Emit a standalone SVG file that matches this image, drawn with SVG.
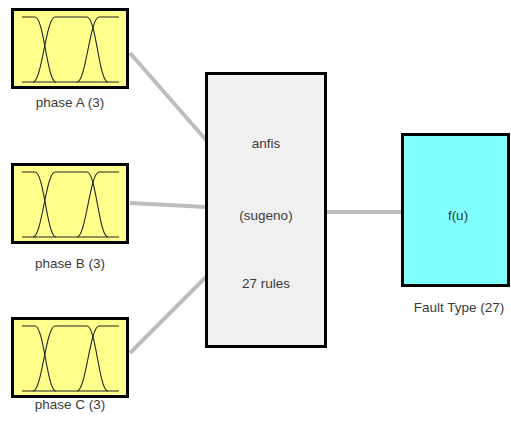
<svg xmlns="http://www.w3.org/2000/svg" xmlns:xlink="http://www.w3.org/1999/xlink" width="511" height="425" viewBox="0 0 511 425">
<style>
.box{stroke:#000;stroke-width:3}
.in{fill:#ffff8c}
.mf{fill:none;stroke:#222;stroke-width:1.1}
.lbl{font-family:"Liberation Sans",Arial,sans-serif;font-size:13.5px;fill:#3a3a3a;text-anchor:middle}
.conn{stroke:#bdbdbd;stroke-width:4;fill:none}
</style>
<defs>
<g id="mfs">
<path class="mf" d="M22,73 H119"/>
<path class="mf" d="M22,8 H35 C44,8 47,73 56,73"/>
<path class="mf" d="M33,73 C42,73 46,8 55,8 H87 C96,8 99,73 108,73"/>
<path class="mf" d="M77,73 C86,73 90,8 99,8 H119"/>
</g>
</defs>
<rect width="511" height="425" fill="#fff"/>
<g id="connectors">
<line class="conn" x1="130" y1="53" x2="206" y2="140"/>
<line class="conn" x1="130" y1="203" x2="206" y2="207"/>
<line class="conn" x1="130" y1="353" x2="206" y2="277"/>
<line class="conn" x1="327" y1="212" x2="402" y2="212"/>
</g>
<g id="phaseA">
<rect class="box in" x="12.5" y="9.5" width="115" height="78"/>
<use xlink:href="#mfs" transform="translate(0,9)"/>
<text class="lbl" x="70" y="107">phase A (3)</text>
</g>
<g id="phaseB">
<rect class="box in" x="12.5" y="164.5" width="115" height="78"/>
<use xlink:href="#mfs" transform="translate(0,164)"/>
<text class="lbl" x="70" y="268">phase B (3)</text>
</g>
<g id="phaseC">
<rect class="box in" x="12.5" y="318.5" width="115" height="78"/>
<use xlink:href="#mfs" transform="translate(0,318)"/>
<text class="lbl" x="70" y="409">phase C (3)</text>
</g>
<g id="anfis">
<rect class="box" fill="#f0f0f0" x="206.5" y="73.5" width="119" height="273"/>
<text class="lbl" x="266" y="148">anfis</text>
<text class="lbl" x="266" y="220">(sugeno)</text>
<text class="lbl" x="266" y="288">27 rules</text>
</g>
<g id="faultType">
<rect class="box" fill="#80ffff" x="402.5" y="134.5" width="106" height="151"/>
<text class="lbl" x="458" y="220">f(u)</text>
<text class="lbl" x="459" y="312">Fault Type (27)</text>
</g>
</svg>
